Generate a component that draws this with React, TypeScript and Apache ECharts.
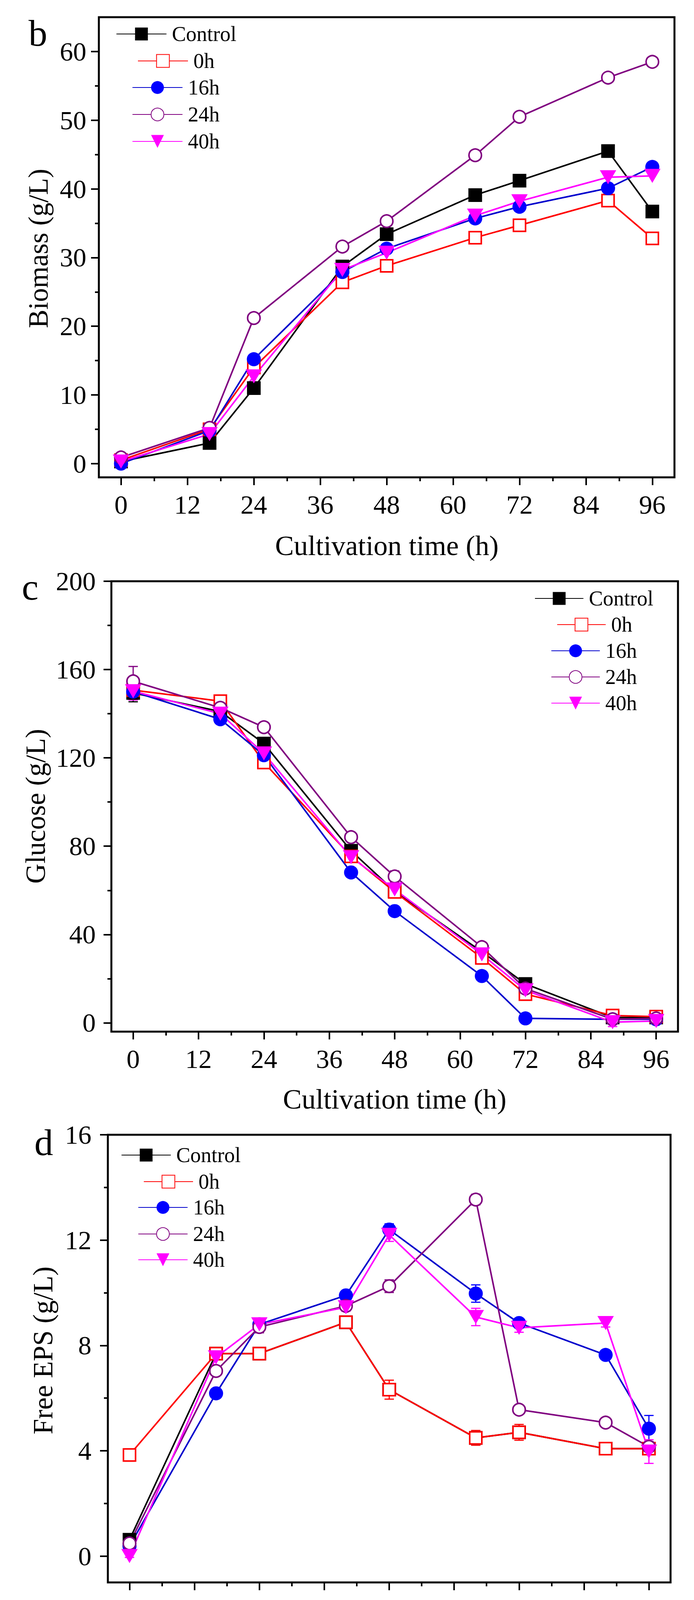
import React, { useEffect, useRef } from "react";
import * as echarts from "echarts";

// ---------------- data ----------------
const TIMES = [0, 16, 24, 40, 48, 64, 72, 88, 96];
const NAMES = ["Control", "0h", "16h", "24h", "40h"];
const X_TICKS = [0, 12, 24, 36, 48, 60, 72, 84, 96];
const X_MINOR = [6, 18, 30, 42, 54, 66, 78, 90];

// b: Biomass (g/L)
const BIOMASS_TICKS = [0, 10, 20, 30, 40, 50, 60];
const BIOMASS_MINOR = [5, 15, 25, 35, 45, 55];
const biomassControl = [0.3, 3.0, 11.0, 28.7, 33.4, 39.1, 41.2, 45.5, 36.7];
const biomass0h = [0.5, 5.0, 14.0, 26.4, 28.8, 32.9, 34.7, 38.3, 32.8];
const biomass16h = [0.0, 4.8, 15.2, 27.9, 31.3, 35.7, 37.4, 40.1, 43.2];
const biomass24h = [0.9, 5.2, 21.2, 31.6, 35.3, 44.9, 50.5, 56.2, 58.5];
const biomass40h = [0.3, 4.3, 12.7, 28.2, 30.7, 36.1, 38.2, 41.7, 41.9];
const biomassErr = [0, 0, 0, 0, 0, 0, 0, 0, 0];

// c: Glucose (g/L)
const GLUCOSE_TICKS = [0, 40, 80, 120, 160, 200];
const GLUCOSE_MINOR = [20, 60, 100, 140, 180];
const glucoseControl = [149.4, 141, 126.5, 77.9, 59.6, 32.2, 17.6, 2.4, 2.4];
const glucose0h = [150.7, 145.7, 117.9, 75.4, 59.3, 29.4, 13, 3.3, 2.8];
const glucose16h = [150, 137.5, 121.2, 68.1, 50.6, 21.2, 2, 1.6, 1.6];
const glucose24h = [154.7, 142.7, 133.9, 84.1, 66.3, 34.3, 15.5, 1.6, 2];
const glucose40h = [150.2, 140, 122, 75, 60.4, 31, 14.7, 0.3, 0.8];
const glucoseErrControl = [4, 2, 2, 2, 2, 2, 1, 1, 1];
const glucoseErr0h = [2, 2.5, 2, 2, 2, 2, 1, 1, 1];
const glucoseErr16h = [2, 1, 2, 2, 1, 1, 1, 1, 1];
const glucoseErr24h = [6.7, 2, 2, 2, 2.5, 2, 1, 1, 1];
const glucoseErr40h = [4, 2, 2, 2, 2, 2, 2, 2, 1];

// d: Free EPS (g/L)
const FREE_TICKS = [0, 4, 8, 12, 16];
const FREE_MINOR = [2, 6, 10, 14];
const freeControl = [0.62, 7.69, 7.69, 8.88, 6.32, 4.49, 4.7, 4.08, 4.08];
const free0h = [3.84, 7.69, 7.69, 8.88, 6.32, 4.49, 4.7, 4.08, 4.08];
const free16h = [0.38, 6.18, 8.8, 9.9, 12.4, 9.97, 8.85, 7.64, 4.84];
const free24h = [0.48, 7.03, 8.7, 9.5, 10.25, 13.54, 5.56, 5.07, 4.15];
const free40h = [0.0, 7.55, 8.8, 9.45, 12.2, 9.08, 8.67, 8.85, 3.97];
const freeErrControl = [0.1, 0.1, 0.1, 0.1, 0.1, 0.1, 0.1, 0.1, 0.1];
const freeErr0h = [0.1, 0.1, 0.1, 0.15, 0.36, 0.28, 0.3, 0.15, 0.15];
const freeErr16h = [0.1, 0.15, 0.15, 0.15, 0.22, 0.33, 0.15, 0.15, 0.5];
const freeErr24h = [0.1, 0.15, 0.22, 0.15, 0.24, 0.2, 0.15, 0.15, 0.2];
const freeErr40h = [0.05, 0.1, 0.15, 0.15, 0.25, 0.33, 0.17, 0.15, 0.45];

// e: EPS (g/L)
const EPS_TICKS = [0, 0.4, 0.8, 1.2, 1.6, 2.0];
const EPS_MINOR = [0.2, 0.6, 1.0, 1.4, 1.8];
const epsControl = [0.1, 0.168, 0.131, 0.19, 0.372, 0.303, 0.328, 0.081, 0.076];
const eps0h = [0.17, 0.645, 0.918, 1.356, 0.733, 0.64, 0.62, 0.338, 0.274];
const eps16h = [0.072, 0.325, 0.347, 0.507, 1.078, 1.091, 0.694, 0.455, 0.549];
const eps24h = [0.103, 0.044, 0.62, 0.968, 0.877, 0.51, 0.448, 0.274, 0.438];
const eps40h = [0.0, 0.064, 0.182, 0.22, 0.274, 0.55, 0.347, 0.27, 0.5];
const epsErrControl = [0.01, 0.01, 0.01, 0.01, 0.01, 0.01, 0.01, 0.01, 0.01];
const epsErr0h = [0.02, 0.02, 0.02, 0.093, 0.04, 0.03, 0.067, 0.07, 0.08];
const epsErr16h = [0.02, 0.054, 0.042, 0.02, 0.067, 0.02, 0.064, 0.04, 0.049];
const epsErr24h = [0.02, 0.02, 0.02, 0.03, 0.02, 0.02, 0.02, 0.02, 0.02];
const epsErr40h = [0.01, 0.01, 0.02, 0.02, 0.02, 0.034, 0.03, 0.02, 0.04];

const X_TITLE = "Cultivation time (h)";

// ---------------- styles / layout ----------------
const FONT = "'Liberation Serif', 'Times New Roman', Times, serif";

const SERIES_STYLE = [
  { line: "#000000", mark: "#000000", symbol: "rect", size: 35, fill: "#000000", border: 0, rotate: 0 },
  { line: "#FF0000", mark: "#FF0000", symbol: "rect", size: 31, fill: "#FFFFFF", border: 4, rotate: 0 },
  { line: "#0000CC", mark: "#0000FF", symbol: "circle", size: 36, fill: "#0000FF", border: 0, rotate: 0 },
  { line: "#800080", mark: "#800080", symbol: "circle", size: 32, fill: "#FFFFFF", border: 4, rotate: 0 },
  { line: "#FF00FF", mark: "#FF00FF", symbol: "triangle", size: [42, 36], fill: "#FF00FF", border: 0, rotate: 180 },
];
const ERR_COLOR = ["#000000", "#FF0000", "#0000FF", "#800080", "#FF00FF"];

const PANELS = [
  {
    letter: "b",
    values: [biomassControl, biomass0h, biomass16h, biomass24h, biomass40h],
    errors: [biomassErr, biomassErr, biomassErr, biomassErr, biomassErr],
    yMin: -2, yMax: 65, ticks: BIOMASS_TICKS, minor: BIOMASS_MINOR, decimals: 0,
    yTitle: "Biomass (g/L)",
    grid: { left: 253, top: 44, width: 1473, height: 1178 },
    yLabelMargin: 32,
    letterPos: [97, 84], xTitlePos: [990, 1397], yTitlePos: [98, 636],
    legend: { font: 54, iw: 128, ih: 41, items: [[297, 87], [352, 156], [338, 224], [338, 293], [338, 362]] },
  },
  {
    letter: "c",
    values: [glucoseControl, glucose0h, glucose16h, glucose24h, glucose40h],
    errors: [glucoseErrControl, glucoseErr0h, glucoseErr16h, glucoseErr24h, glucoseErr40h],
    yMin: -4, yMax: 200, ticks: GLUCOSE_TICKS, minor: GLUCOSE_MINOR, decimals: 0,
    yTitle: "Glucose (g/L)",
    grid: { left: 285, top: 1488, width: 1450, height: 1153 },
    yLabelMargin: 40,
    letterPos: [77, 1502], xTitlePos: [1010, 2814], yTitlePos: [91, 2064],
    legend: { font: 54, iw: 124, ih: 41, items: [[1368, 1532], [1425, 1599], [1410, 1666], [1410, 1733], [1410, 1800]] },
  },
  {
    letter: "d",
    values: [freeControl, free0h, free16h, free24h, free40h],
    errors: [freeErrControl, freeErr0h, freeErr16h, freeErr24h, freeErr40h],
    yMin: -1, yMax: 16, ticks: FREE_TICKS, minor: FREE_MINOR, decimals: 0,
    yTitle: "Free EPS (g/L)",
    grid: { left: 276, top: 2905, width: 1440, height: 1146 },
    yLabelMargin: 42,
    letterPos: [112, 2924], xTitlePos: [996, 4231], yTitlePos: [110, 3457],
    legend: { font: 54, iw: 126, ih: 41, items: [[310, 2957], [367, 3025], [353, 3091], [353, 3159], [353, 3225]] },
  },
  {
    letter: "e",
    values: [epsControl, eps0h, eps16h, eps24h, eps40h],
    errors: [epsErrControl, epsErr0h, epsErr16h, epsErr24h, epsErr40h],
    yMin: -0.1, yMax: 2.0, ticks: EPS_TICKS, minor: EPS_MINOR, decimals: 1,
    yTitle: "EPS (g/L)",
    grid: { left: 291, top: 4321, width: 1444, height: 1153 },
    yLabelMargin: 40,
    letterPos: [92, 4354], xTitlePos: [1013, 5650], yTitlePos: [92, 4896],
    legend: { font: 60, iw: 137, ih: 45, items: [[313, 4372], [382, 4446], [367, 4520], [367, 4594], [367, 4668]] },
  },
];

function buildOption() {
  const grid: any[] = [];
  const xAxis: any[] = [];
  const yAxis: any[] = [];
  const series: any[] = [];
  const legend: any[] = [];
  const graphic: any[] = [];

  PANELS.forEach((p, pi) => {
    grid.push({
      ...p.grid,
      show: true,
      borderColor: "#000",
      borderWidth: 5,
      backgroundColor: "transparent",
      containLabel: false,
    });
    const tickLabel = { fontSize: 68, fontFamily: FONT, color: "#000" };
    const noLine = { show: false, onZero: false };
    xAxis.push({
      type: "value", gridIndex: pi, position: "bottom", min: -4, max: 100,
      axisLine: noLine,
      splitLine: { show: false },
      axisTick: { show: true, customValues: X_TICKS, length: 20, lineStyle: { color: "#000", width: 4 } },
      axisLabel: { ...tickLabel, customValues: X_TICKS, margin: 36, formatter: (v: number) => String(v) },
    });
    xAxis.push({
      type: "value", gridIndex: pi, position: "bottom", min: -4, max: 100,
      axisLine: noLine,
      splitLine: { show: false },
      axisTick: { show: true, customValues: X_MINOR, length: 10, lineStyle: { color: "#000", width: 4 } },
      axisLabel: { show: false },
    });
    yAxis.push({
      type: "value", gridIndex: pi, position: "left", min: p.yMin, max: p.yMax,
      axisLine: noLine,
      splitLine: { show: false },
      axisTick: { show: true, customValues: p.ticks, length: 20, lineStyle: { color: "#000", width: 4 } },
      axisLabel: {
        ...tickLabel, customValues: p.ticks, margin: p.yLabelMargin,
        formatter: (v: number) => v.toFixed(p.decimals),
      },
    });
    yAxis.push({
      type: "value", gridIndex: pi, position: "left", min: p.yMin, max: p.yMax,
      axisLine: noLine,
      splitLine: { show: false },
      axisTick: { show: true, customValues: p.minor, length: 10, lineStyle: { color: "#000", width: 4 } },
      axisLabel: { show: false },
    });

    p.values.forEach((vals, si) => {
      const errs = p.errors[si];
      const data = TIMES.map((t, k) => [t, vals[k], errs[k]]).filter((d) => d[2] > 0);
      if (!data.length) return;
      const col = ERR_COLOR[si];
      series.push({
        type: "custom",
        name: `err-${p.letter}-${NAMES[si]}`,
        xAxisIndex: 2 * pi,
        yAxisIndex: 2 * pi,
        silent: true,
        z: 1,
        encode: { x: 0, y: 1 },
        data,
        renderItem: (params: any, api: any) => {
          const x = api.value(0);
          const y = api.value(1);
          const e = api.value(2);
          const top = api.coord([x, y + e]);
          const bot = api.coord([x, y - e]);
          const hw = 12;
          const st = { stroke: col, lineWidth: 3 };
          return {
            type: "group",
            children: [
              { type: "line", shape: { x1: top[0], y1: top[1], x2: bot[0], y2: bot[1] }, style: st },
              { type: "line", shape: { x1: top[0] - hw, y1: top[1], x2: top[0] + hw, y2: top[1] }, style: st },
              { type: "line", shape: { x1: bot[0] - hw, y1: bot[1], x2: bot[0] + hw, y2: bot[1] }, style: st },
            ],
          };
        },
      });
    });

    p.values.forEach((vals, si) => {
      const s = SERIES_STYLE[si];
      series.push({
        type: "line",
        name: NAMES[si],
        xAxisIndex: 2 * pi,
        yAxisIndex: 2 * pi,
        data: TIMES.map((t, k) => [t, vals[k]]),
        symbol: s.symbol,
        symbolSize: s.size,
        symbolRotate: s.rotate,
        showSymbol: true,
        showAllSymbol: true,
        clip: false,
        silent: true,
        z: 2,
        lineStyle: { color: s.line, width: 4 },
        itemStyle: { color: s.fill, borderColor: s.mark, borderWidth: s.border },
        emphasis: { disabled: true },
      });
    });

    p.legend.items.forEach((pos, si) => {
      legend.push({
        data: [NAMES[si]],
        orient: "vertical",
        left: pos[0],
        top: pos[1] - p.legend.font / 2,
        padding: 0,
        itemWidth: p.legend.iw,
        itemHeight: p.legend.ih,
        selectedMode: false,
        textStyle: {
          fontSize: p.legend.font,
          fontFamily: FONT,
          color: "#000",
          padding: [0, 0, 0, 9],
        },
      });
    });

    const txt = { fontFamily: FONT, fill: "#000", textAlign: "center", textVerticalAlign: "middle", align: "center", verticalAlign: "middle" };
    graphic.push({
      type: "text", x: p.letterPos[0], y: p.letterPos[1], silent: true,
      style: { ...txt, text: p.letter, fontSize: 96 },
    });
    graphic.push({
      type: "text", x: p.xTitlePos[0], y: p.xTitlePos[1], silent: true,
      style: { ...txt, text: X_TITLE, fontSize: 72 },
    });
    graphic.push({
      type: "text", x: p.yTitlePos[0], y: p.yTitlePos[1], rotation: Math.PI / 2, silent: true,
      style: { ...txt, text: p.yTitle, fontSize: 71 },
    });
  });

  return {
    animation: false,
    backgroundColor: "#ffffff",
    grid,
    xAxis,
    yAxis,
    series,
    legend,
    graphic,
  };
}

export default function App() {
  const ref = useRef<HTMLDivElement>(null);
  useEffect(() => {
    document.body.style.margin = "0";
    const chart = echarts.init(ref.current as HTMLDivElement, null, { renderer: "svg" });
    chart.setOption(buildOption() as any);
    return () => chart.dispose();
  }, []);
  return <div ref={ref} style={{ width: 1776, height: 5734, background: "#fff" }} />;
}
